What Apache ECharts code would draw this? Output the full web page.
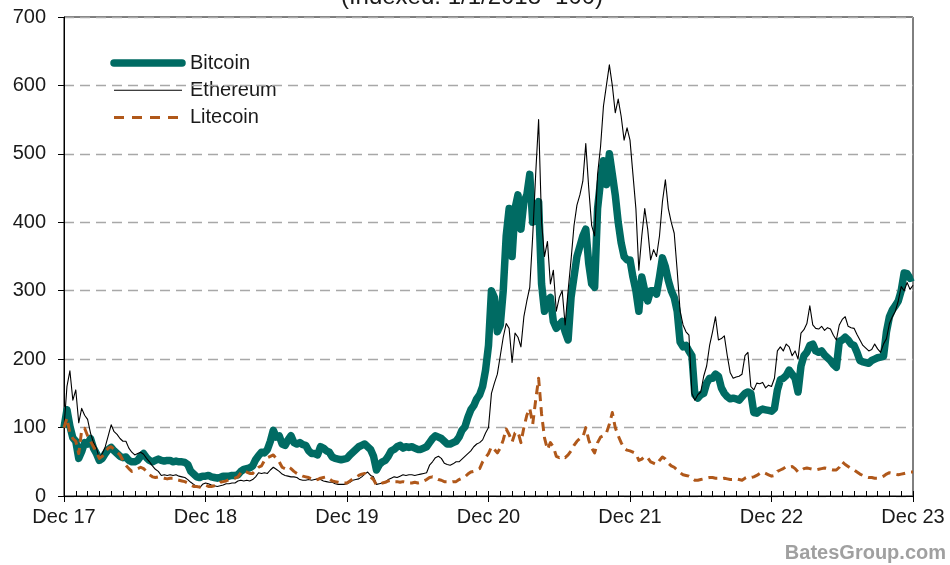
<!DOCTYPE html>
<html>
<head>
<meta charset="utf-8">
<script src="https://cdn.jsdelivr.net/npm/echarts@6/dist/echarts.min.js"></script>
<style>
  html, body { margin: 0; padding: 0; background: #fff; }
  #chart { width: 950px; height: 565px; }
</style>
</head>
<body>
<div id="chart"></div>
<script>
// Weekly-ish samples (4 per month) from Jan 2018 to Dec 2023, indexed so that 1/1/2018 = 100.
// One row per calendar year; the last row ends with the final value at the Dec 23 mark.
const bitcoin = [
  100,126,102,85, 80,55,65,78, 76,84,70,62, 52,55,62,68, 71,66,62,58, 56,57,52,50, 50,52,58,62, 56,52,50,52, 54,52,51,52, 52,50,51,50, 50,49,46,36, 32,28,27,29,
  29,30,28,27, 26,27,29,29, 29,30,30,31, 36,39,40,41, 44,53,59,64, 63,68,80,96, 86,88,76,74, 82,88,78,76, 78,75,74,66, 62,62,60,72, 70,66,64,57, 55,54,53,54,
  55,60,64,68, 72,74,76,72, 68,58,38,46, 50,52,58,66, 68,72,74,70, 72,71,72,70, 68,68,70,72, 78,84,88,86, 84,80,76,76, 78,80,86,96, 101,115,126,132, 142,148,160,184,
  220,300,290,240, 250,300,380,420, 350,420,440,390, 430,440,470,400, 420,430,310,270, 285,290,255,245, 250,255,240,228, 290,320,350,365, 380,390,340,310, 305,420,460,490, 455,500,470,440, 400,370,350,345,
  345,320,300,270, 320,300,285,300, 300,295,320,348, 335,315,300,290, 270,225,218,220, 212,205,148,143, 148,150,165,172, 172,178,175,158, 150,145,142,143, 142,140,145,150, 152,150,122,121, 125,127,126,125,
  124,128,155,170, 172,176,184,178, 172,152,190,205, 210,220,222,212, 210,212,206,202, 198,192,188,226, 228,232,228,222, 220,210,198,196, 195,194,198,200, 202,203,204,240, 262,272,278,285, 300,326,325,318, 320
];

const ethereum = [
  100,160,183,140, 155,107,128,118, 112,92,78,70, 55,62,72,88, 104,94,90,84, 80,80,70,64, 60,62,64,61, 55,50,44,39, 36,30,31,30, 31,30,31,29, 28,27,24,20, 17,14,12,17,
  19,18,16,15, 14,15,16,18, 18,19,19,22, 23,22,23,22, 24,28,34,33, 34,33,38,42, 39,36,32,30, 29,28,28,27, 24,23,23,24, 23,24,25,24, 22,21,20,20, 18,17,17,17,
  18,20,23,24, 25,28,32,35, 30,28,17,18, 19,21,24,26, 28,27,29,31, 30,31,31,30, 31,32,33,34, 45,50,56,58, 55,48,46,45, 47,50,50,54, 58,62,66,72, 76,78,82,92,
  100,150,165,178, 205,232,252,245, 195,238,232,218, 262,285,305,380, 470,550,400,350, 372,310,330,270, 290,300,250,300, 345,395,425,440, 460,515,450,395, 380,470,510,570, 600,630,600,560, 580,555,520,538,
  520,470,420,330, 380,420,390,345, 360,350,380,430, 462,420,400,384, 330,270,250,240, 235,150,140,148, 152,175,190,220, 240,262,228,230, 234,205,180,172, 174,175,178,205, 210,160,155,165, 164,166,158,162,
  160,172,212,218, 212,222,218,205, 212,200,238,243, 252,278,250,245, 244,248,242,246, 244,235,228,250, 258,262,248,246, 245,236,228,220, 216,212,214,222, 215,210,222,230, 252,262,270,285, 306,300,312,302, 308
];

const litecoin = [
  100,114,92,84, 80,62,96,99, 88,80,72,64, 55,58,64,70, 72,68,64,60, 52,45,40,36, 38,40,42,40, 36,31,28,27, 28,27,26,25, 26,26,24,23, 22,21,19,16, 14,14,13,15,
  16,14,14,15, 16,20,21,22, 24,25,26,28, 34,37,35,33, 33,38,42,44, 52,56,58,60, 55,50,42,40, 43,40,36,33, 31,29,28,27, 25,23,24,26, 27,28,25,22, 21,20,19,19,
  19,22,25,27, 30,32,33,30, 28,24,16,17, 19,20,22,23, 21,21,20,21, 20,19,19,20, 19,20,22,24, 27,28,26,24, 23,21,21,20, 21,21,24,26, 28,32,35,36, 38,40,50,56,
  62,72,68,63, 70,82,98,90, 79,92,94,78, 100,118,128,105, 140,172,120,85, 68,78,72,58, 56,58,56,60, 66,74,80,84, 86,100,82,70, 63,78,86,88, 92,105,122,100, 88,78,70,67,
  66,64,62,52, 54,58,56,50, 48,46,52,57, 54,48,44,42, 38,34,31,30, 29,26,23,23, 24,25,26,27, 27,26,26,25, 26,25,24,24, 25,24,23,26, 28,27,28,30, 33,35,33,31,
  29,30,36,38, 40,43,42,43, 40,35,37,40, 41,40,39,38, 39,40,41,40, 39,38,38,42, 50,46,43,40, 38,35,32,30, 28,27,27,26, 26,27,29,32, 34,33,32,31, 32,33,34,35, 35
];

const seriesNames = ['Bitcoin', 'Ethereum', 'Litecoin'];
const yearLabels = ['Dec 17', 'Dec 18', 'Dec 19', 'Dec 20', 'Dec 21', 'Dec 22', 'Dec 23'];
const subtitle = '(Indexed: 1/1/2018=100)';
const credit = 'BatesGroup.com';

// x position of each sample, in months after the Dec 17 mark
const months = bitcoin.map((_, i) => i / 4);
const pairs = values => values.map((v, i) => [months[i], v]);

const FONT = '"Liberation Sans", Arial, sans-serif';
const INK = '#1a1a1a';

// shared line styles for each series and its key entry
const styles = [
  { color: '#006b63', width: 7.5, dash: null },
  { color: '#000000', width: 1.1, dash: null },
  { color: '#b0581a', width: 3, dash: [9, 6] }
];

// key: a short sample of each line followed by its name
const keyItems = [];
seriesNames.forEach((name, i) => {
  const cy = 63 + i * 27.3;
  const st = styles[i];
  keyItems.push({
    type: 'line',
    shape: { x1: 114, y1: cy, x2: 182, y2: cy },
    style: {
      stroke: st.color, lineWidth: st.width,
      lineCap: i === 0 ? 'round' : 'butt',
      lineDash: i === 2 ? [10, 8] : null
    }
  });
  keyItems.push({
    type: 'text', x: 190, y: cy,
    style: { text: name, font: '20px ' + FONT, fill: INK, verticalAlign: 'middle' }
  });
});

const chart = echarts.init(document.getElementById('chart'), null, { renderer: 'canvas' });

chart.setOption({
  animation: false,
  backgroundColor: '#ffffff',
  grid: {
    left: 64, right: 37, top: 17, bottom: 69,
    show: true, borderColor: '#000', borderWidth: 1, backgroundColor: 'transparent'
  },
  graphic: [
    {
      type: 'text', x: 472, y: -3,
      style: { text: subtitle, font: '24px ' + FONT, fill: INK, align: 'center', verticalAlign: 'middle' }
    },
    {
      type: 'text', right: 4, bottom: 2,
      style: { text: credit, font: 'bold 20px ' + FONT, fill: '#a0a0a0' }
    },
    { type: 'group', children: keyItems, z: 100 }
  ],
  xAxis: [
    {
      type: 'value', min: 0, max: 72, interval: 12, position: 'bottom',
      axisLine: { show: true, lineStyle: { color: '#000', width: 1 } },
      axisTick: { show: true, inside: false, length: 6, lineStyle: { color: '#000' } },
      axisLabel: {
        margin: 11, fontSize: 20, fontFamily: FONT, color: INK,
        formatter: v => yearLabels[Math.round(v / 12)]
      },
      splitLine: { show: false }
    },
    {
      // monthly minor ticks pointing into the plot
      type: 'value', min: 0, max: 72, interval: 1, position: 'bottom',
      axisLine: { show: false },
      axisTick: { show: true, inside: true, length: 5, lineStyle: { color: '#000' } },
      axisLabel: { show: false },
      splitLine: { show: false }
    }
  ],
  yAxis: {
    type: 'value', min: 0, max: 700, interval: 100,
    axisLine: { show: true, lineStyle: { color: '#000', width: 1 } },
    axisTick: { show: true, inside: false, length: 6, lineStyle: { color: '#000' } },
    axisLabel: { margin: 18, fontSize: 20, fontFamily: FONT, color: INK },
    splitLine: { show: true, lineStyle: { color: '#a8a8a8', width: 1.3, type: [10, 6] } }
  },
  series: [bitcoin, ethereum, litecoin].map((values, i) => ({
    name: seriesNames[i], type: 'line', xAxisIndex: 0, data: pairs(values),
    symbol: 'none', z: 2 + i,
    itemStyle: { color: styles[i].color },
    lineStyle: {
      color: styles[i].color, width: styles[i].width,
      type: styles[i].dash || 'solid', join: 'round'
    }
  }))
});
</script>
</body>
</html>
